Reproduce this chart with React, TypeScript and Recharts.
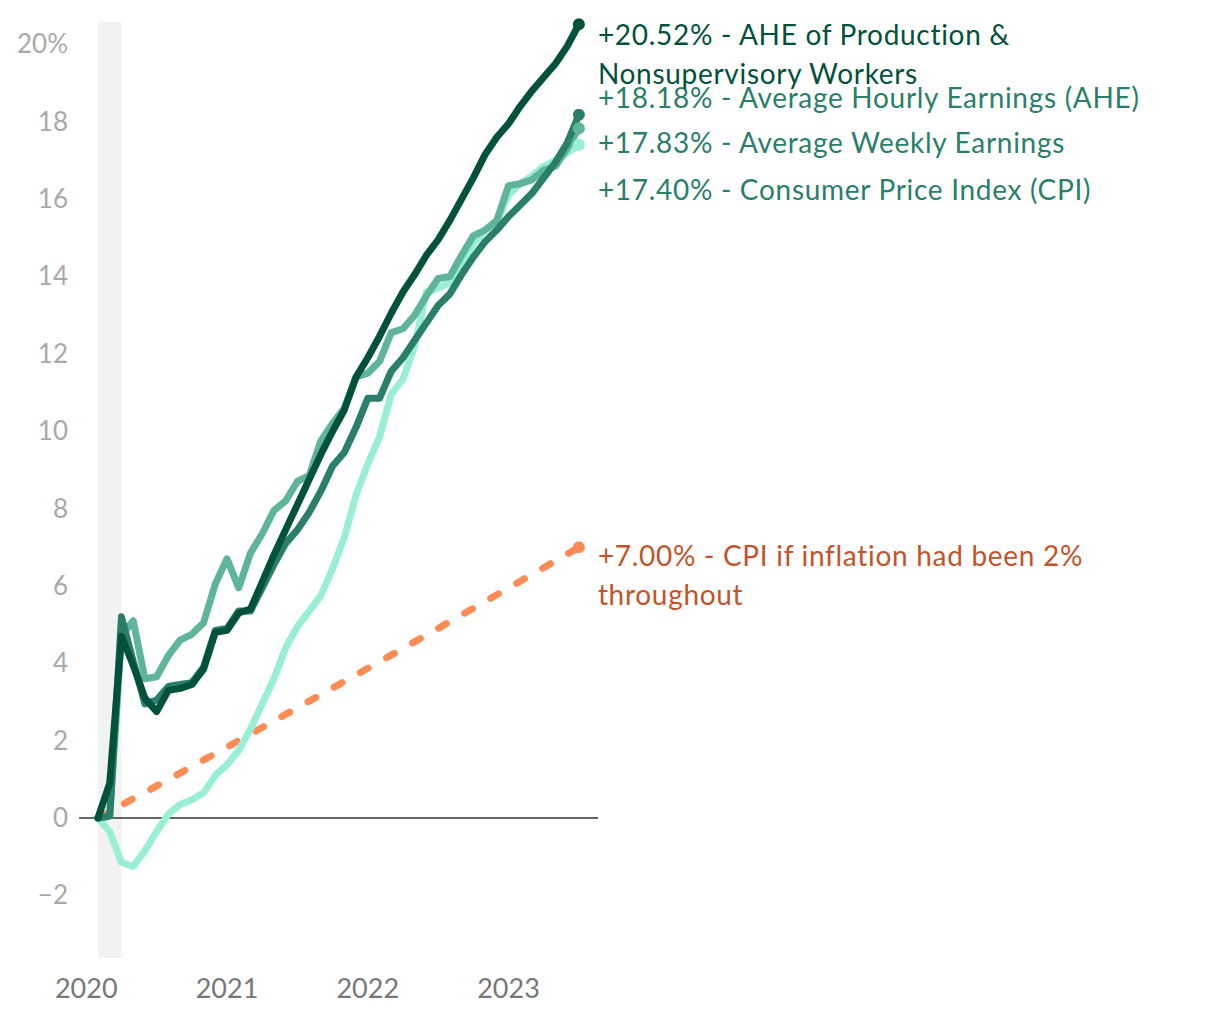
import React from "react";
import {
  LineChart,
  Line,
  XAxis,
  YAxis,
  ReferenceArea,
  ReferenceLine,
  LabelList,
} from "recharts";

// Feb 2020 .. Jul 2023, % change since Feb 2020
const months = [
  "2020-02", "2020-03", "2020-04", "2020-05", "2020-06", "2020-07", "2020-08", "2020-09", "2020-10", "2020-11", "2020-12",
  "2021-01", "2021-02", "2021-03", "2021-04", "2021-05", "2021-06", "2021-07", "2021-08", "2021-09", "2021-10", "2021-11", "2021-12",
  "2022-01", "2022-02", "2022-03", "2022-04", "2022-05", "2022-06", "2022-07", "2022-08", "2022-09", "2022-10", "2022-11", "2022-12",
  "2023-01", "2023-02", "2023-03", "2023-04", "2023-05", "2023-06", "2023-07",
];

const aheProduction = [
  0, 0.9, 4.7, 3.95, 3.1, 2.75, 3.3, 3.35, 3.45, 3.85, 4.8, 4.85, 5.3, 5.4, 6.1, 6.8, 7.45, 8.1, 8.75, 9.4, 10.0,
  10.55, 11.4, 11.9, 12.45, 13.05, 13.6, 14.05, 14.55, 14.95, 15.45, 16.0, 16.55, 17.15, 17.6, 17.95, 18.4, 18.8,
  19.15, 19.5, 19.95, 20.52,
];
const ahe = [
  0, 0.05, 5.2, 4.05, 2.95, 3.05, 3.4, 3.45, 3.5, 3.9, 4.85, 4.9, 5.35, 5.35, 5.95, 6.55, 7.1, 7.45, 7.9, 8.45, 9.1,
  9.45, 10.1, 10.85, 10.85, 11.55, 11.9, 12.35, 12.8, 13.25, 13.55, 14.05, 14.5, 14.9, 15.2, 15.55, 15.85, 16.15,
  16.55, 16.95, 17.45, 18.18,
];
const awe = [
  0, 0.05, 4.7, 5.1, 3.6, 3.65, 4.2, 4.6, 4.75, 5.05, 6.05, 6.7, 5.95, 6.85, 7.35, 7.95, 8.2, 8.7, 8.85, 9.75, 10.2,
  10.6, 11.4, 11.5, 11.8, 12.55, 12.65, 13.0, 13.5, 13.95, 14.0, 14.55, 15.05, 15.2, 15.45, 16.35, 16.4, 16.5,
  16.75, 16.85, 17.3, 17.83,
];
const cpi = [
  0, -0.35, -1.15, -1.25, -0.85, -0.35, 0.1, 0.35, 0.47, 0.65, 1.1, 1.38, 1.75, 2.3, 2.95, 3.6, 4.4, 4.95, 5.35,
  5.75, 6.45, 7.25, 8.35, 9.15, 9.85, 10.95, 11.35, 12.2, 13.6, 13.7, 13.85, 14.3, 14.85, 15.2, 15.4, 16.1, 16.4,
  16.6, 16.85, 17.0, 17.2, 17.4,
];
const cpi2pct = [
  0, 0.17, 0.33, 0.5, 0.66, 0.83, 0.99, 1.16, 1.33, 1.5, 1.66, 1.83, 2.0, 2.17, 2.34, 2.51, 2.68, 2.85, 3.02, 3.19,
  3.36, 3.53, 3.7, 3.87, 4.04, 4.21, 4.38, 4.56, 4.73, 4.9, 5.08, 5.25, 5.42, 5.6, 5.77, 5.95, 6.12, 6.3, 6.47,
  6.65, 6.82, 7.0,
];

const yearTicks = [-1, 11, 23, 35]; // January of each year, in months after Feb 2020
const yearLabels = ["2020", "2021", "2022", "2023"];
const yTicks = [-2, 0, 2, 4, 6, 8, 10, 12, 14, 16, 18, 20];
const recession = [0, 2]; // Feb-Apr 2020

const labels = {
  aheProduction: ["+20.52% - AHE of Production &", "Nonsupervisory Workers"],
  ahe: ["+18.18% - Average Hourly Earnings (AHE)"],
  awe: ["+17.83% - Average Weekly Earnings"],
  cpi: ["+17.40% - Consumer Price Index (CPI)"],
  cpi2pct: ["+7.00% - CPI if inflation had been 2%", "throughout"],
};

const data = months.map((m, i) => ({
  month: m,
  i,
  aheProduction: aheProduction[i],
  ahe: ahe[i],
  awe: awe[i],
  cpi: cpi[i],
  cpi2pct: cpi2pct[i],
}));

const FONT = "Lato, 'Noto Sans', sans-serif";
const last = months.length - 1;

const endDot = (color: string) => (props: any) => {
  if (props.index !== last) return <g key={props.index} />;
  return <circle key={props.index} cx={props.cx} cy={props.cy} r={6} fill={color} />;
};

const endLabel = (lines: string[], color: string, dy: number) => (props: any) => {
  if (props.index !== last) return null;
  return (
    <text x={props.x + 19} y={props.y + dy} fill={color} fontSize={28} letterSpacing={0.7} fontFamily={FONT}>
      {lines.map((l, k) => (
        <tspan key={k} x={props.x + 19} dy={k === 0 ? 0 : 39}>
          {l}
        </tspan>
      ))}
    </text>
  );
};

const YTick = (props: any) => {
  const v = props.payload.value;
  const txt = v === 20 ? "20%" : v < 0 ? "\u2212" + Math.abs(v) : String(v);
  return (
    <text x={props.x - 3} y={props.y + 9} textAnchor="end" fill="#a9a9a9" fontSize={26} fontFamily={FONT}>
      {txt}
    </text>
  );
};

const XTick = (props: any) => {
  const idx = yearTicks.indexOf(props.payload.value);
  return (
    <text x={props.x} y={props.y + 32} textAnchor="middle" fill="#777777" fontSize={27} fontFamily={FONT}>
      {yearLabels[idx]}
    </text>
  );
};

const series = [
  { key: "cpi2pct", color: "#ff8b55", text: "#c4532a", dy: 19, dash: "9 21" },
  { key: "cpi", color: "#99efd6", text: "#2a7f6a", dy: 55 },
  { key: "awe", color: "#5fb49c", text: "#2a7f6a", dy: 25 },
  { key: "ahe", color: "#2a7f6a", text: "#2a7f6a", dy: -7 },
  { key: "aheProduction", color: "#02513d", text: "#02513d", dy: 21 },
];

export default function App() {
  return (
    <div style={{ width: 1204, height: 1004 }}>
      <LineChart width={1204} height={1004} data={data} margin={{ top: 14, right: 614, bottom: 0, left: 0 }}>
        <ReferenceArea x1={recession[0]} x2={recession[1]} fill="#f2f2f2" fillOpacity={1} stroke="none" />
        <XAxis
          type="number"
          dataKey="i"
          domain={[-1.62, 42.63]}
          ticks={yearTicks}
          tick={<XTick />}
          axisLine={false}
          tickLine={false}
          height={54}
        />
        <YAxis
          type="number"
          domain={[-3.62, 20.58]}
          ticks={yTicks}
          tick={<YTick />}
          axisLine={false}
          tickLine={false}
          width={71}
        />
        <ReferenceLine y={0} stroke="#333333" strokeWidth={1.5} />
        {series.map((s) => (
          <Line
            key={s.key}
            type="linear"
            dataKey={s.key}
            stroke={s.color}
            strokeWidth={7}
            strokeDasharray={s.dash}
            strokeLinecap="round"
            strokeLinejoin="round"
            dot={endDot(s.color)}
            activeDot={false}
            isAnimationActive={false}
          >
            <LabelList dataKey={s.key} content={endLabel((labels as any)[s.key], s.text, s.dy)} />
          </Line>
        ))}
      </LineChart>
    </div>
  );
}
